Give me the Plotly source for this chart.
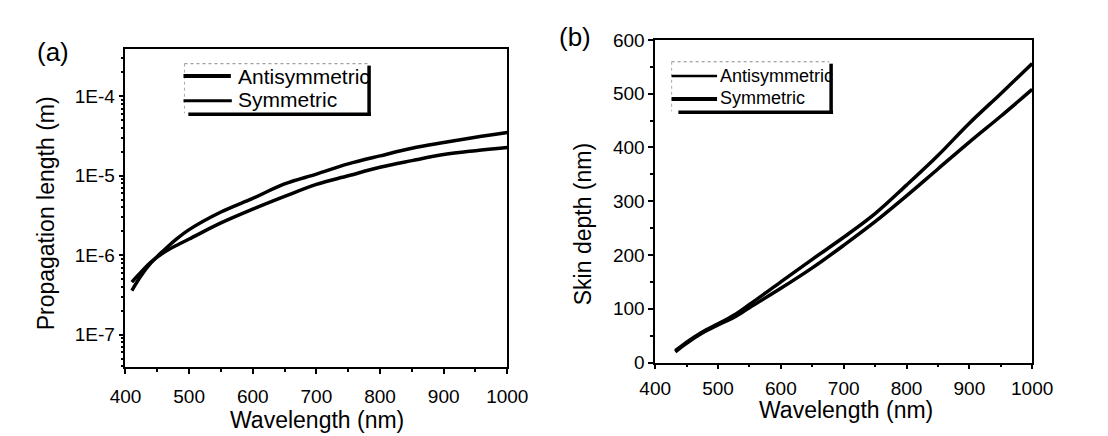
import plotly.graph_objects as go

W, H = 1108, 436

# ---------------- data ----------------
wl_a = [410, 425, 440, 460, 480, 500, 550, 600, 650, 700, 750, 800, 850, 900, 950, 1000]
prop_sym = [3.6e-7, 5.6e-7, 8.0e-7, 1.15e-6, 1.6e-6, 2.1e-6, 3.5e-6, 5.2e-6, 7.9e-6,
            1.05e-5, 1.41e-5, 1.78e-5, 2.22e-5, 2.62e-5, 3.05e-5, 3.5e-5]
prop_anti = [4.6e-7, 6.2e-7, 8.2e-7, 1.08e-6, 1.33e-6, 1.6e-6, 2.55e-6, 3.8e-6, 5.5e-6,
             7.8e-6, 1.0e-5, 1.28e-5, 1.55e-5, 1.85e-5, 2.07e-5, 2.27e-5]

wl_b = [432, 450, 475, 500, 525, 550, 600, 650, 700, 750, 800, 850, 900, 950, 1000]
skin_sym = [22, 38, 57, 72, 88, 108, 150, 192, 233, 277, 330, 385, 445, 500, 556]
skin_anti = [20, 36, 55, 70, 84, 102, 138, 176, 218, 262, 310, 360, 410, 458, 508]

ytick_vals_a = [1e-7, 1e-6, 1e-5, 1e-4]
ytick_text_a = ["1E-7", "1E-6", "1E-5", "1E-4"]
legend_names = ["Antisymmetric", "Symmetric"]

# ---------------- helpers ----------------
def px(x):
    return x / W

def py(y):
    return 1 - y / H

FONT = "Liberation Sans, Arial, sans-serif"
LW = 3.5

fig = go.Figure()
fig.add_trace(go.Scatter(x=wl_a, y=prop_anti, mode="lines", line=dict(color="black", width=LW, shape="spline"),
                         name=legend_names[0], xaxis="x", yaxis="y", showlegend=False))
fig.add_trace(go.Scatter(x=wl_a, y=prop_sym, mode="lines", line=dict(color="black", width=LW, shape="spline"),
                         name=legend_names[1], xaxis="x", yaxis="y", showlegend=False))
fig.add_trace(go.Scatter(x=wl_b, y=skin_anti, mode="lines", line=dict(color="black", width=LW, shape="spline"),
                         name=legend_names[0], xaxis="x2", yaxis="y2", showlegend=False))
fig.add_trace(go.Scatter(x=wl_b, y=skin_sym, mode="lines", line=dict(color="black", width=LW, shape="spline"),
                         name=legend_names[1], xaxis="x2", yaxis="y2", showlegend=False))

axis_common = dict(showline=True, linecolor="black", linewidth=1.5, mirror=True,
                   ticks="outside", ticklen=5, tickwidth=1.5, tickcolor="black",
                   showgrid=False, zeroline=False,
                   tickfont=dict(family=FONT, size=19, color="black"))

fig.update_layout(
    width=W, height=H,
    margin=dict(l=0, r=0, t=0, b=0),
    paper_bgcolor="white", plot_bgcolor="white",
    font=dict(family=FONT, color="black"),
    xaxis=dict(domain=[px(105), px(500)], anchor="y", range=[400, 1000], dtick=100,
               minor=dict(ticks="outside", ticklen=3, dtick=50, tickcolor="black"),
               ticklabelstandoff=6, **axis_common),
    yaxis=dict(domain=[py(367), py(33)], anchor="x", type="log", range=[-7.41, -3.41],
               tickmode="array", tickvals=ytick_vals_a, ticktext=ytick_text_a,
               minor=dict(ticks="outside", ticklen=3, dtick="D1", tickcolor="black"),
               **axis_common),
    xaxis2=dict(domain=[px(653), px(1043)], anchor="y2", range=[400, 1000], dtick=100,
                minor=dict(ticks="outside", ticklen=3, dtick=50, tickcolor="black"),
                ticklabelstandoff=3, **axis_common),
    yaxis2=dict(domain=[py(362), py(23)], anchor="x2", range=[0, 600], dtick=100,
                minor=dict(ticks="outside", ticklen=3, dtick=50, tickcolor="black"),
                **axis_common),
)

ann = []
def text(x, y, s, size, angle=0, xanchor="center"):
    ann.append(dict(x=px(x), y=py(y), xref="paper", yref="paper", text=s, showarrow=False,
                    textangle=angle, xanchor=xanchor, yanchor="middle",
                    font=dict(family=FONT, size=size, color="black")))

text(30, 36, "(a)", 26)
text(570, 20, "(b)", 26)
text(303, 422, "Wavelength (nm)", 23)
text(850, 412, "Wavelength (nm)", 23)
text(23, 205, "Propagation length (m)", 23, angle=-90)
text(578, 217, "Skin depth (nm)", 23, angle=-90)

shapes = []
def line(x0, y0, x1, y1, w, color="black", dash="solid"):
    shapes.append(dict(type="line", xref="paper", yref="paper", x0=px(x0), y0=py(y0),
                       x1=px(x1), y1=py(y1), line=dict(color=color, width=w, dash=dash)))

# legend (a)
line(166, 48, 356, 48, 1, color="#888888", dash="dot")
line(166, 48, 166, 100, 1, color="#aaaaaa", dash="dot")
line(357, 50, 357, 102, 3.5)
line(170, 101, 359, 101, 3.5)
line(165, 61, 214, 61, 4)
line(165, 87, 215, 87, 3)
text(219, 61, legend_names[0], 21, xanchor="left")
text(219, 86, legend_names[1], 21, xanchor="left")

# legend (b)
line(670, 46, 833, 46, 1, color="#888888", dash="dot")
line(670, 46, 670, 98, 1, color="#aaaaaa", dash="dot")
line(835, 48, 835, 100, 3.5)
line(677, 99, 837, 99, 3.5)
line(670, 61, 717, 61, 2.5)
line(670, 85, 717, 85, 4)
text(718, 61, legend_names[0], 18, xanchor="left")
text(718, 84, legend_names[1], 18, xanchor="left")

fig.update_layout(annotations=ann, shapes=shapes)
fig.write_html("out.html")
